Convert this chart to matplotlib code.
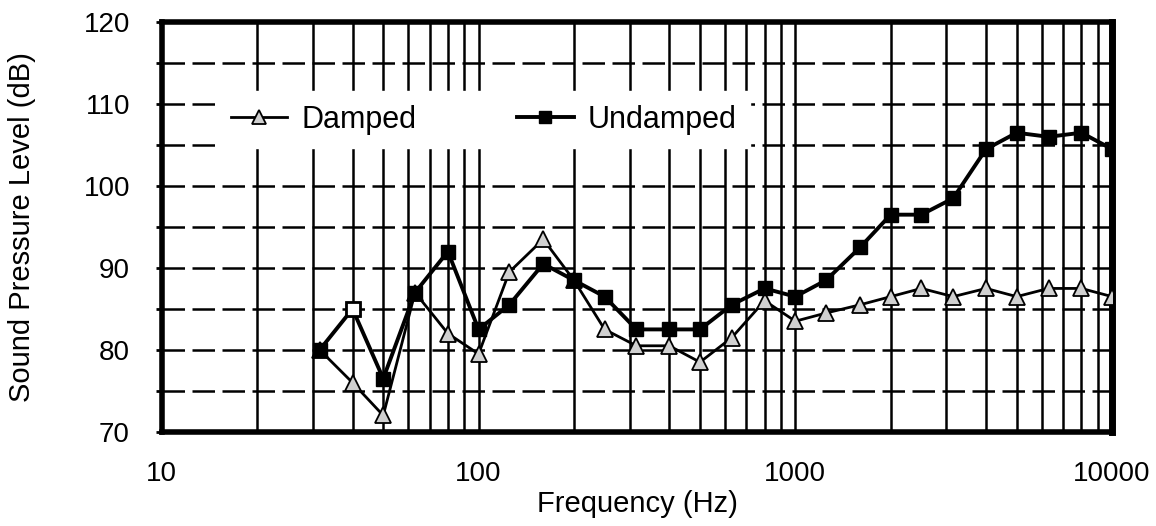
import matplotlib
matplotlib.use("Agg")
import matplotlib.pyplot as plt
from matplotlib.ticker import MultipleLocator, NullLocator
import numpy as np

plt.rcParams['font.family'] = ['Liberation Sans', 'DejaVu Sans']

freqs = [31.5, 40, 50, 63, 80, 100, 125, 160, 200, 250, 315, 400, 500,
         630, 800, 1000, 1250, 1600, 2000, 2500, 3150, 4000, 5000, 6300, 8000, 10000]
damped = [80, 76, 72, 87, 82, 79.5, 89.5, 93.5, 88.5, 82.5, 80.5, 80.5, 78.5,
          81.5, 86, 83.5, 84.5, 85.5, 86.5, 87.5, 86.5, 87.5, 86.5, 87.5, 87.5, 86.5]
undamped = [80, 85, 76.5, 87, 92, 82.5, 85.5, 90.5, 88.5, 86.5, 82.5, 82.5, 82.5,
            85.5, 87.5, 86.5, 88.5, 92.5, 96.5, 96.5, 98.5, 104.5, 106.5, 106, 106.5, 104.5]
yticks = [70, 80, 90, 100, 110, 120]
xticks = [10, 100, 1000, 10000]
xticklabels = ['10', '100', '1000', '10000']

fig = plt.figure(figsize=(11.56, 5.26), dpi=100)
ax = fig.add_axes([0.140, 0.179, 0.822, 0.779])
ax.set_xscale('log')
ax.set_xlim(10, 10000)
ax.set_ylim(70, 120)

# grid
for dec in [10, 100, 1000]:
    for m in range(1, 10):
        f = dec * m
        if 10 < f < 10000:
            ax.axvline(f, color='black', lw=1.8, zorder=1)
for yv in np.arange(75, 120, 5):
    ax.axhline(yv, color='black', lw=1.8, ls=(0, (9, 3)), zorder=1)

ax.plot(freqs, damped, color='black', lw=2.0, marker='^', markersize=11,
        markerfacecolor='#d0d0d0', markeredgecolor='black', markeredgewidth=1.3,
        label='Damped', zorder=3)
ax.plot(freqs, undamped, color='black', lw=2.8, marker='s', markersize=10,
        markerfacecolor='black', markeredgecolor='black', label='Undamped', zorder=4)
ax.plot(freqs[1:2], undamped[1:2], ls='none', marker='s', markersize=10,
        markerfacecolor='white', markeredgecolor='black', markeredgewidth=2, zorder=5)

ax.set_xticks(xticks)
ax.set_xticklabels(xticklabels)
ax.xaxis.set_minor_locator(NullLocator())
ax.set_yticks(yticks)
ax.yaxis.set_minor_locator(MultipleLocator(5))
ax.tick_params(axis='x', length=0, labelsize=20, pad=21)
ax.tick_params(axis='y', which='both', length=4, width=2, direction='out',
               labelsize=20, pad=19)

for side, lw in [('top', 4), ('bottom', 4), ('left', 4), ('right', 5)]:
    ax.spines[side].set_linewidth(lw)
    ax.spines[side].set_color('black')

ax.set_xlabel('Frequency (Hz)', fontsize=21, labelpad=2)
ax.set_ylabel('Sound Pressure Level (dB)', fontsize=21, labelpad=34)

leg = ax.legend(loc='center left', bbox_to_anchor=(0.042, 0.762), ncol=2,
                fontsize=22, frameon=True, fancybox=False, edgecolor='white',
                facecolor='white', framealpha=1, columnspacing=3.3,
                handlelength=1.85, handletextpad=0.46, borderpad=0.45,
                markerscale=0.9)
leg.set_zorder(6)

fig.savefig('out.png', dpi=100)
